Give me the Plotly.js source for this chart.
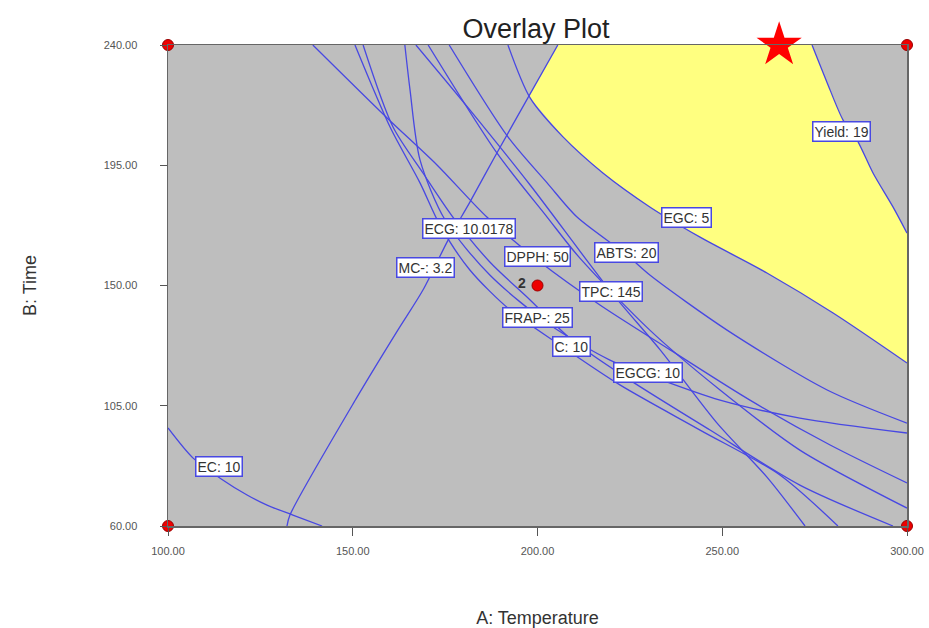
<!DOCTYPE html>
<html>
<head>
<meta charset="utf-8">
<script src="https://cdn.plot.ly/plotly-3.0.1.min.js"></script>
<style>html,body{margin:0;padding:0;background:#fff;}#chart{width:929px;height:628px;}</style>
</head>
<body>
<div id="chart"></div>
<script>
// ---- data (A: Temperature, B: Time) ----
const mcX   = [132.2,133.0,151.2,162.2,169.0,175.8,181.7,189.0,197.4,205.5];
const mcY   = [60,64.1,108.3,133.3,148.3,167,181.2,199.6,220.2,240];
const egcX  = [192.0,198.0,206.9,217.7,230.4,244.0,262.1,280.0,300];
const egcY  = [240,220.2,205.6,192.1,179.4,168.1,154.7,139.7,121.0];
const yieldX= [274.3,278.3,282.7,286.5,290.8,296.2,300];
const yieldY= [240,226.2,211.9,204.4,192.1,179.4,169.6];
const ecX   = [100,106.8,114.1,121.4,126.8,133.8,141.7];
const ecY   = [96.7,85.4,77.9,71.6,67.8,64.1,60];
const ecgX  = [139.2,159.3,172.8,186.3,200.7,216.9,235.9,257.5,279.2,300];
const ecgY  = [240,212.7,195.1,175.6,158.8,142.7,125.9,107.1,90.3,76.1];
const frapX = [150.6,160.1,168.2,173.6,181.7,192.6,206.1,222.3,244.0,265.6,281.3];
const frapY = [240,209.3,188.4,172.6,155.8,140.8,127.7,112.8,95.9,79.1,60];
const cX    = [152.8,160.9,169.0,177.1,187.1,198.0,209.3,225.0,246.7,271.0,296.2];
const cY    = [240,209.3,192.1,175.6,158.8,144.6,129.6,114.6,95.9,75.3,60];
const egcgX = [164.1,165.5,168.2,175.0,187.1,203.4,219.6,229.9,249.4,271.0,300];
const egcgY = [240,223.2,197.0,174.5,153.9,135.2,122.1,116.5,107.1,100.4,94.8];
const tpcX  = [167.1,181.7,198.0,219.9,233.2,248.6,262.1,272.4];
const tpcY  = [240,215.7,187.6,147.6,125.9,98.5,78.3,60];
const dpphX = [170.4,189.0,202.6,211.0,230.4,249.4,271.0,300];
const dpphY = [240,199.6,175.6,161.0,133.3,110.9,88.4,66.7];
const abtsX = [176.1,192.0,202.6,210.7,224.2,230.4,251.3,278.4,300];
const abtsY = [240,205.6,188.4,175.6,161.4,153.9,133.3,110.9,98.5];

const labelText = ["ECG: 10.0178","MC-: 3.2","DPPH: 50","ABTS: 20","EGC: 5","TPC: 145","FRAP-: 25","C: 10","EGCG: 10","Yield: 19","EC: 10"];
const labelX    = [181.5,169.8,200.1,224.2,240.2,219.9,199.9,209.3,229.9,282.4,113.8];
const labelY    = [171.5,156.9,161.0,162.5,175.3,147.6,138.2,127.0,117.6,207.8,82.1];

const designX = [100,100,300,300,200];
const designY = [60,240,60,240,150];
const starX = [265.4], starY = [240];

const xTicks = [100,150,200,250,300];
const xTickText = ["100.00","150.00","200.00","250.00","300.00"];
const yTicks = [60,105,150,195,240];
const yTickText = ["60.00","105.00","150.00","195.00","240.00"];

// ---- yellow overlay region: Yield (down) -> EGC (back) -> MC (up) ----
const polyX = yieldX.concat(egcX.slice(1).reverse(), mcX.slice(-2));
const polyY = yieldY.concat(egcY.slice(1).reverse(), mcY.slice(-2));

const blue = 'rgb(72,72,226)';
function contour(x, y) {
  return {x: x, y: y, type: 'scatter', mode: 'lines', hoverinfo: 'skip',
          line: {color: blue, width: 1.3, shape: 'spline', smoothing: 0.8}, showlegend: false};
}
const traces = [
  {x: polyX, y: polyY, type: 'scatter', mode: 'lines', fill: 'toself', fillcolor: '#ffff80',
   line: {width: 0, shape: 'linear'}, showlegend: false, hoverinfo: 'skip'},
  contour(mcX, mcY), contour(egcX, egcY), contour(yieldX, yieldY), contour(ecX, ecY),
  contour(ecgX, ecgY), contour(frapX, frapY), contour(cX, cY), contour(egcgX, egcgY),
  contour(tpcX, tpcY), contour(dpphX, dpphY), contour(abtsX, abtsY),
  {x: designX, y: designY, type: 'scatter', mode: 'markers', cliponaxis: false, showlegend: false,
   marker: {symbol: 'circle', size: 11, color: '#ee0000', line: {color: '#990000', width: 1}}},
  {x: starX, y: starY, type: 'scatter', mode: 'markers', cliponaxis: false, showlegend: false,
   marker: {symbol: 'star', size: 34, color: '#ff0000', line: {width: 0}}}
];

const annotations = labelText.map((t, i) => ({
  x: labelX[i], y: labelY[i], xref: 'x', yref: 'y', text: t, showarrow: false,
  bgcolor: '#ffffff', bordercolor: blue, borderwidth: 1.5, borderpad: 1,
  font: {family: 'Arial, Liberation Sans, sans-serif', size: 14, color: '#333'}
}));
annotations.push({x: designX[4], y: designY[4], xref: 'x', yref: 'y', text: '<b>2</b>', showarrow: false,
  xshift: -16, yshift: 3, font: {family: 'Arial, Liberation Sans, sans-serif', size: 14, color: '#333'}});

const layout = {
  width: 929, height: 628,
  margin: {l: 168, r: 22, t: 45, b: 102},
  paper_bgcolor: '#ffffff', plot_bgcolor: '#bebebe',
  font: {family: 'Arial, Liberation Sans, sans-serif', color: '#444'},
  title: {text: 'Overlay Plot', x: 0.577, xanchor: 'center', y: 0.955, yanchor: 'middle',
          font: {size: 27, color: '#222'}},
  xaxis: {range: [100, 300], tickvals: xTicks, ticktext: xTickText, ticks: 'outside', ticklen: 8,
          tickcolor: '#555', showgrid: false, zeroline: false, showline: true, mirror: true,
          linecolor: '#666', linewidth: 1.5, tickfont: {size: 11, color: '#555'}, ticklabelstandoff: 6,
          title: {text: 'A: Temperature', font: {size: 18, color: '#333'}, standoff: 55}},
  yaxis: {range: [60, 240], tickvals: yTicks, ticktext: yTickText, ticks: 'outside', ticklen: 7,
          tickcolor: '#555', showgrid: false, zeroline: false, showline: true, mirror: true,
          linecolor: '#666', linewidth: 1.5, tickfont: {size: 11, color: '#555'}, ticklabelstandoff: 20,
          title: {text: 'B: Time', font: {size: 18, color: '#333'}, standoff: 62}},
  annotations: annotations,
  showlegend: false
};
Plotly.newPlot('chart', traces, layout, {displayModeBar: false, staticPlot: true});
</script>
</body>
</html>
